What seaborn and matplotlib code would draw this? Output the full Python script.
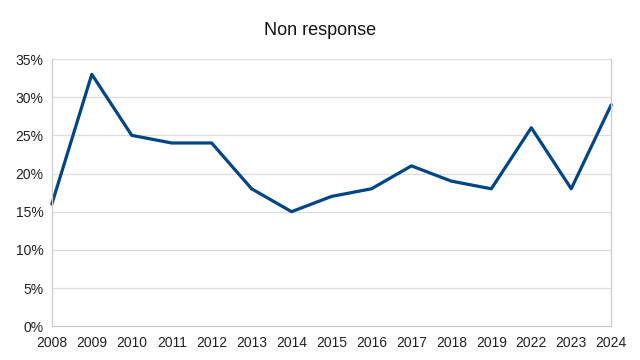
import matplotlib
matplotlib.use("Agg")
import matplotlib.pyplot as plt
import seaborn as sns
import pandas as pd
from matplotlib.ticker import FuncFormatter, MultipleLocator

years = ["2008", "2009", "2010", "2011", "2012", "2013", "2014", "2015",
         "2016", "2017", "2018", "2019", "2022", "2023", "2024"]
non_response = [16, 33, 25, 24, 24, 18, 15, 17, 18, 21, 19, 18, 26, 18, 29]

df = pd.DataFrame({"year": years, "value": non_response})
df["pos"] = range(len(years))

sns.set_style("white")
plt.rcParams["font.family"] = ["Liberation Sans", "DejaVu Sans"]

fig = plt.figure(figsize=(6.4, 3.6), dpi=100)
ax = fig.add_axes([0.081, 0.094, 0.874, 0.742])

sns.lineplot(data=df, x="pos", y="value", ax=ax, color="#004586", linewidth=2.3)
for ln in ax.lines:
    ln.set_clip_on(False)
    ln.set_solid_joinstyle("round")

ax.set_xlim(0, len(years) - 1)
ax.set_ylim(0, 35)
ax.yaxis.set_major_locator(MultipleLocator(5))
ax.yaxis.set_major_formatter(FuncFormatter(lambda v, p: f"{int(v)}%"))
ax.set_xticks(df["pos"])
ax.set_xticklabels(years)
ax.grid(axis="y", color="#dddddd", linewidth=0.9)
ax.set_axisbelow(True)
for s in ["left", "right", "bottom"]:
    ax.spines[s].set_color("#cccccc")
    ax.spines[s].set_linewidth(0.9)
ax.spines["top"].set_visible(False)
ax.tick_params(axis="x", length=4, color="#cccccc", labelsize=10, pad=3, labelcolor="#222222")
ax.tick_params(axis="y", length=4, color="#cccccc", labelsize=10, pad=2, labelcolor="#222222")
ax.set_xlabel("")
ax.set_ylabel("")
fig.suptitle("Non response", y=0.94, fontsize=13, color="#111111")

fig.savefig("out.png", dpi=100)
